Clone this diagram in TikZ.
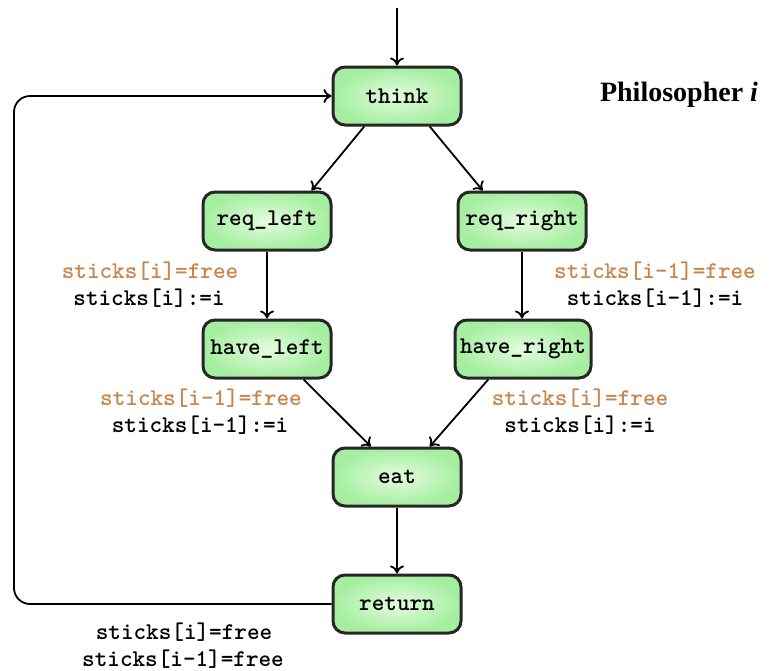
\documentclass[tikz,border=0pt]{standalone}
\usepackage{fontspec}
\newfontfamily\philfont{Liberation Serif}
\usetikzlibrary{arrows.meta,calc}
\definecolor{boxout}{RGB}{165,238,160}
\definecolor{boxin}{RGB}{228,252,224}
\definecolor{cond}{RGB}{200,134,78}
\tikzset{
  state/.style={draw=black!85, line width=1.5pt, rounded corners=6pt,
    inner color=boxin, outer color=boxout,
    minimum width=64pt, minimum height=29pt, inner xsep=2.5pt,
    font=\ttfamily\bfseries\fontsize{12}{14}\selectfont},
  lbl/.style={font=\ttfamily\bfseries\fontsize{12}{14}\selectfont, inner sep=0pt},
  guard/.style={lbl, text=cond},
  conn/.style={line width=0.9pt, -{To[length=4pt,width=7pt]}},
}
\begin{document}
\begin{tikzpicture}[x=0.5pt,y=-0.5pt]
\useasboundingbox (0,0) rectangle (782,670);
\node[state] (think) at (397,96) {think};
\node[state] (reql) at (267,221) {req\_left};
\node[state] (reqr) at (522,221) {req\_right};
\node[state] (havel) at (267,349) {have\_left};
\node[state] (haver) at (523,349) {have\_right};
\node[state] (eat) at (397,477) {eat};
\node[state] (ret) at (397,604) {return};
\coordinate (start) at (397,8);
\coordinate (c1) at (14,604);
\coordinate (c2) at (14,96);
\node[font=\philfont\bfseries\fontsize{14}{16}\selectfont, inner sep=0pt] (phil) at (679,95) {Philosopher \textit{i}};

\draw[conn] (start) -- (think);
\draw[conn] ($(think.south west)!0.25!(think.south east)$) -- ($(reql.north west)!0.84!(reql.north east)$);
\draw[conn] ($(think.south west)!0.75!(think.south east)$) -- ($(reqr.north west)!0.2!(reqr.north east)$);
\draw[conn] (reql) -- (reql |- havel.north);
\draw[conn] (reqr) -- (reqr |- haver.north);
\draw[conn] ($(havel.south west)!0.78!(havel.south east)$) -- ($(eat.north west)!0.3!(eat.north east)$);
\draw[conn] ($(haver.south west)!0.25!(haver.south east)$) -- ($(eat.north west)!0.75!(eat.north east)$);
\draw[conn] (eat) -- (ret);
\draw[conn, rounded corners=8pt] (ret.west) -- (c1) -- (c2) -- (think.west);

\node[guard] (g1) at (150,271) {sticks[i]=free};
\node[lbl] (a1) at (149,298) {sticks[i]:=i};
\node[guard] (g2) at (655,271) {sticks[i-1]=free};
\node[lbl] (a2) at (655,298) {sticks[i-1]:=i};
\node[guard] (g3) at (201,398) {sticks[i-1]=free};
\node[lbl] (a3) at (200,425) {sticks[i-1]:=i};
\node[guard] (g4) at (580,398) {sticks[i]=free};
\node[lbl] (a4) at (580,425) {sticks[i]:=i};
\node[lbl] (r1) at (184,632) {sticks[i]=free};
\node[lbl] (r2) at (183,659) {sticks[i-1]=free};
\end{tikzpicture}
\end{document}
